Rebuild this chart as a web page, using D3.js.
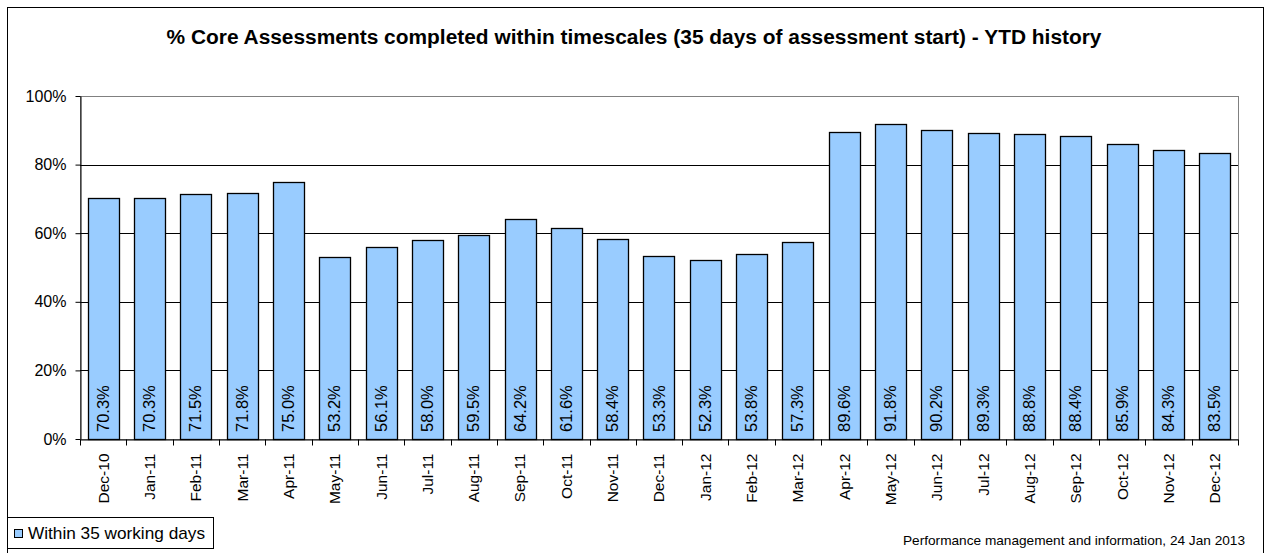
<!DOCTYPE html>
<html>
<head>
<meta charset="utf-8">
<script src="https://cdn.jsdelivr.net/npm/d3@7"></script>
<style>
  html, body { margin: 0; padding: 0; background: #fff; }
  svg { display: block; font-family: Arial, "Liberation Sans", sans-serif; }
</style>
</head>
<body>
<svg id="chart" width="1266" height="553"></svg>
<script>
const categories = ["Dec-10","Jan-11","Feb-11","Mar-11","Apr-11","May-11","Jun-11","Jul-11","Aug-11","Sep-11","Oct-11","Nov-11","Dec-11","Jan-12","Feb-12","Mar-12","Apr-12","May-12","Jun-12","Jul-12","Aug-12","Sep-12","Oct-12","Nov-12","Dec-12"];
const within35 = [70.3,70.3,71.5,71.8,75.0,53.2,56.1,58.0,59.5,64.2,61.6,58.4,53.3,52.3,53.8,57.3,89.6,91.8,90.2,89.3,88.8,88.4,85.9,84.3,83.5];
const yTicks = [0,20,40,60,80,100];
const titleText = "% Core Assessments completed within timescales (35 days of assessment start) - YTD history";
const seriesName = "Within 35 working days";
const footerText = "Performance management and information, 24 Jan 2013";

const svg = d3.select("#chart");
const plot = {left: 80, right: 1238, top: 96, bottom: 439};

// outer frame
svg.append("rect").attr("x", 7.5).attr("y", 7.5).attr("width", 1256).attr("height", 570)
  .attr("fill", "none").attr("stroke", "#000").attr("stroke-width", 1);

// title
svg.append("text").attr("x", 634).attr("y", 44).attr("text-anchor", "middle")
  .attr("font-size", 19.5).attr("font-weight", "bold").attr("fill", "#000")
  .attr("textLength", 935).attr("lengthAdjust", "spacingAndGlyphs").text(titleText);

const x = d3.scaleBand().domain(categories).range([plot.left, plot.right])
  .paddingInner(0.33).paddingOuter(0.165);
const y = d3.scaleLinear().domain([0, 100]).range([plot.bottom, plot.top]);

// plot area border (gray)
svg.append("rect").attr("x", plot.left + 0.5).attr("y", plot.top + 0.5)
  .attr("width", plot.right - plot.left).attr("height", plot.bottom - plot.top)
  .attr("fill", "none").attr("stroke", "#808080").attr("stroke-width", 1);

// gridlines
svg.append("g").selectAll("line").data(yTicks.filter(t => t > 0 && t < 100)).join("line")
  .attr("x1", plot.left).attr("x2", plot.right)
  .attr("y1", d => Math.round(y(d)) + 0.5).attr("y2", d => Math.round(y(d)) + 0.5)
  .attr("stroke", "#000").attr("stroke-width", 1.2);

// bars
svg.append("g").selectAll("rect").data(within35).join("rect")
  .attr("x", (d, i) => Math.round(x(categories[i])) + 0.5)
  .attr("y", d => Math.round(y(d)) + 0.5)
  .attr("width", Math.round(x.bandwidth()))
  .attr("height", d => Math.round(y(0)) - Math.round(y(d)))
  .attr("fill", "#99CCFF").attr("stroke", "#000").attr("stroke-width", 1.3);

// value labels (rotated)
svg.append("g").selectAll("text").data(within35).join("text")
  .attr("transform", (d, i) => `translate(${x(categories[i]) + x.bandwidth() / 2 + 5.5},${plot.bottom - 7}) rotate(-90)`)
  .attr("text-anchor", "start").attr("font-size", 16.5).attr("fill", "#000")
  .text(d => d.toFixed(1) + "%");

// y axis
const yAxis = d3.axisLeft(y).tickValues(yTicks).tickFormat(d => d + "%").tickSize(5).tickSizeOuter(0);
const gy = svg.append("g").attr("transform", `translate(${plot.left + 0.5},0)`).call(yAxis);
gy.select(".domain").attr("stroke", "#000");
gy.selectAll(".tick line").attr("stroke", "#000");
gy.selectAll(".tick text").attr("font-size", 16).attr("font-family", "Arial, 'Liberation Sans', sans-serif")
  .attr("fill", "#000").attr("x", -14);

// x axis
const xAxis = d3.axisBottom(x).tickSize(0).tickSizeOuter(0);
const gx = svg.append("g").attr("transform", `translate(0,${plot.bottom + 0.5})`).call(xAxis);
gx.select(".domain").attr("stroke", "#000");
gx.selectAll(".tick text")
  .attr("font-size", 15.5).attr("font-family", "Arial, 'Liberation Sans', sans-serif").attr("fill", "#000")
  .attr("transform", "rotate(-90)").attr("text-anchor", "end")
  .attr("x", -14).attr("y", 0).attr("dy", "0.35em");
// x ticks at band boundaries
const bounds = categories.map(c => x(c) - x.step() * x.paddingInner() / 2).concat([plot.right]);
gx.append("g").selectAll("line").data(bounds).join("line")
  .attr("x1", d => Math.round(d) + 0.5).attr("x2", d => Math.round(d) + 0.5)
  .attr("y1", 0).attr("y2", 6).attr("stroke", "#000");

// legend
const lg = svg.append("g");
lg.append("rect").attr("x", 7.5).attr("y", 517.5).attr("width", 206).attr("height", 31)
  .attr("fill", "#fff").attr("stroke", "#000");
lg.append("rect").attr("x", 14.5).attr("y", 529.5).attr("width", 8).attr("height", 8)
  .attr("fill", "#99CCFF").attr("stroke", "#000");
lg.append("text").attr("x", 28).attr("y", 539).attr("font-size", 17).attr("fill", "#000")
  .attr("textLength", 177).attr("lengthAdjust", "spacingAndGlyphs").text(seriesName);

// footer
svg.append("text").attr("x", 1245).attr("y", 545).attr("text-anchor", "end")
  .attr("font-size", 13.5).attr("fill", "#000")
  .attr("textLength", 342).attr("lengthAdjust", "spacingAndGlyphs").text(footerText);
</script>
</body>
</html>
